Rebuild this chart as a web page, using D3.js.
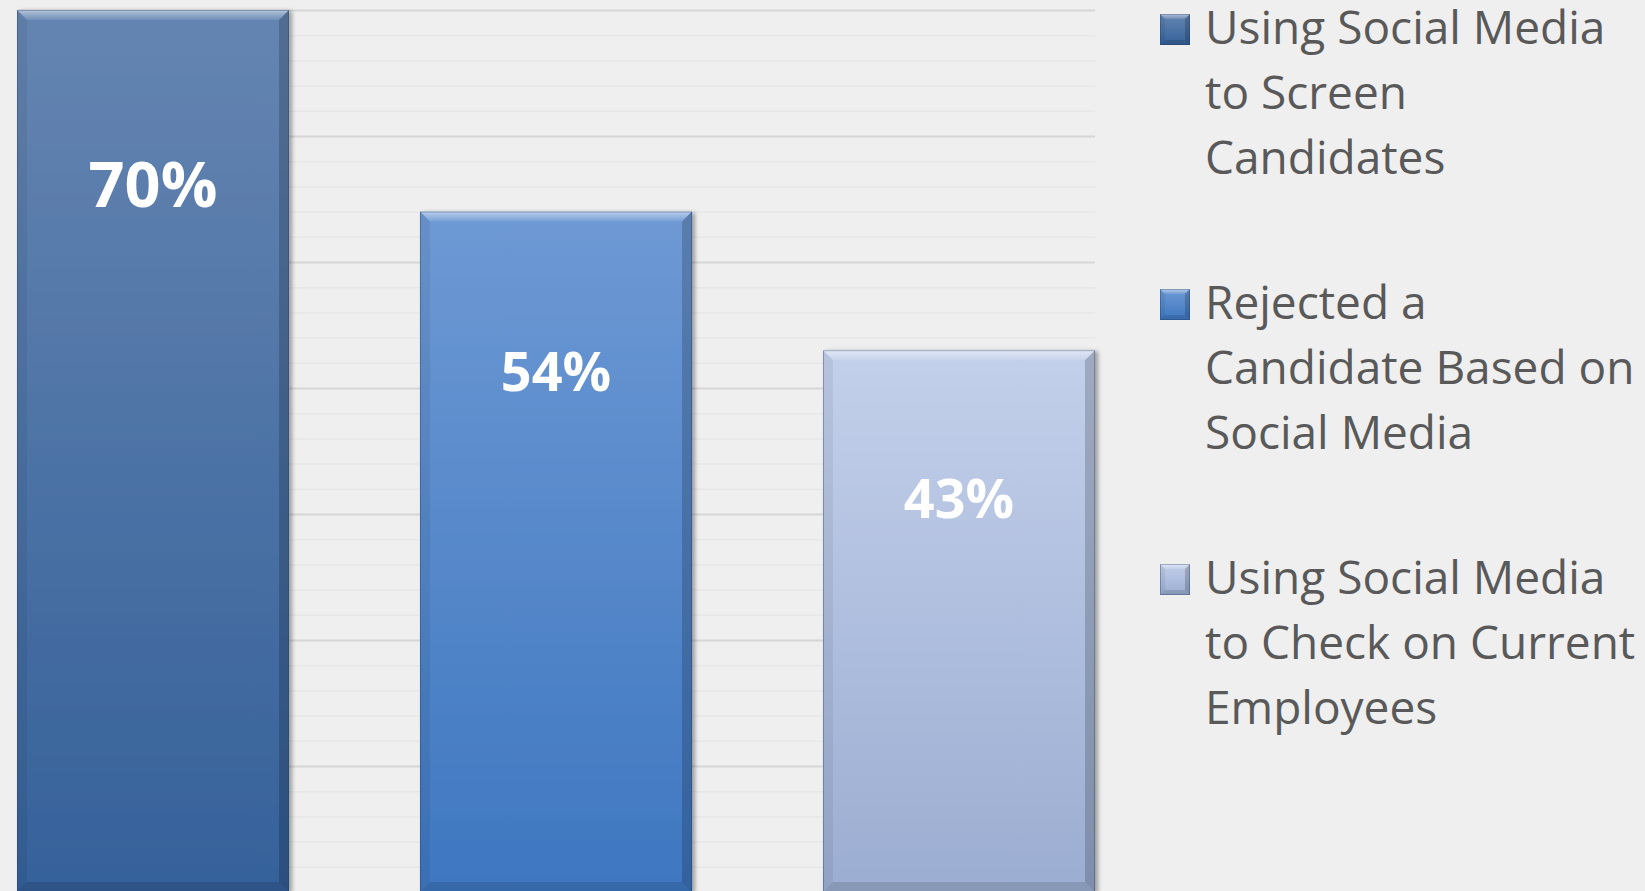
<!DOCTYPE html>
<html>
<head>
<meta charset="utf-8">
<script src="https://cdn.jsdelivr.net/npm/d3@7"></script>
<style>
  html, body { margin: 0; padding: 0; background: #efefef; overflow: hidden; }
  svg { display: block; }
</style>
</head>
<body>
<svg id="chart" width="1645" height="891"></svg>
<script>
// series (one category, three series)
var seriesNames = ["Using Social Media to Screen Candidates",
                   "Rejected a Candidate Based on Social Media",
                   "Using Social Media to Check on Current Employees"];
var legendLines = [["Using Social Media", "to Screen", "Candidates"],
                   ["Rejected a", "Candidate Based on", "Social Media"],
                   ["Using Social Media", "to Check on Current", "Employees"]];
var values = [70, 54, 43];
var valueLabels = ["70%", "54%", "43%"];

var colorTop = ["#6585b1", "#6e99d4", "#c3d0eb"];
var colorBot = ["#35619a", "#3e77c0", "#9badd1"];

var svg = d3.select("#chart");
var plot = { left: 17, right: 1095, top: 10, bottom: 892 };

var x = d3.scaleBand()
    .domain(seriesNames)
    .range([plot.left, plot.right])
    .paddingInner(0.325)
    .paddingOuter(0);

var y = d3.scaleLinear()
    .domain([0, 70])
    .range([plot.bottom, plot.top]);

var defs = svg.append("defs");

// gradients for each series
seriesNames.forEach(function(s, i) {
  var g = defs.append("linearGradient")
      .attr("id", "grad" + i)
      .attr("x1", 0).attr("y1", 0).attr("x2", 0).attr("y2", 1);
  g.append("stop").attr("offset", "0%").attr("stop-color", colorTop[i]);
  g.append("stop").attr("offset", "100%").attr("stop-color", colorBot[i]);
});

var topBevel = defs.append("linearGradient")
    .attr("id", "topBevel")
    .attr("x1", 0).attr("y1", 0).attr("x2", 0).attr("y2", 1);
topBevel.append("stop").attr("offset", "0%").attr("stop-color", "#fff").attr("stop-opacity", 0.55);
topBevel.append("stop").attr("offset", "35%").attr("stop-color", "#fff").attr("stop-opacity", 0.35);
topBevel.append("stop").attr("offset", "100%").attr("stop-color", "#fff").attr("stop-opacity", 0.08);

var shadow = defs.append("filter")
    .attr("id", "shadow")
    .attr("x", "-5%").attr("y", "-5%").attr("width", "115%").attr("height", "115%");
shadow.append("feDropShadow")
    .attr("dx", 3).attr("dy", 1)
    .attr("stdDeviation", 2)
    .attr("flood-color", "#000")
    .attr("flood-opacity", 0.35);

// gridlines: minor every 2%, major every 10%
svg.append("g")
    .attr("class", "grid minor")
    .attr("transform", "translate(" + plot.left + ",0)")
    .call(d3.axisLeft(y)
      .tickValues(d3.range(0, 71, 2).filter(function(d) { return d % 10 !== 0; }))
      .tickSize(-(plot.right - plot.left))
      .tickFormat(""))
    .call(function(g) { g.select(".domain").remove(); })
    .selectAll("line")
      .attr("stroke", "#e7e7e7")
      .attr("stroke-width", 1.5);

svg.append("g")
    .attr("class", "grid major")
    .attr("transform", "translate(" + plot.left + ",0)")
    .call(d3.axisLeft(y)
      .tickValues(d3.range(0, 71, 10))
      .tickSize(-(plot.right - plot.left))
      .tickFormat(""))
    .call(function(g) { g.select(".domain").remove(); })
    .selectAll("line")
      .attr("stroke", "#d6d6d6")
      .attr("stroke-width", 2);

// draws a bevelled block like the Office 3-D bar style
function bevelBlock(g, x0, y0, w, h, b, i) {
  var x1 = x0 + w, y1 = y0 + h;
  g.append("rect")
    .attr("x", x0).attr("y", y0)
    .attr("width", w).attr("height", h)
    .attr("fill", "url(#grad" + i + ")")
    .attr("filter", "url(#shadow)");
  // top highlight
  g.append("polygon")
    .attr("points", [[x0, y0], [x1, y0], [x1 - b, y0 + b], [x0 + b, y0 + b]].join(" "))
    .attr("fill", "url(#topBevel)");
  // left side
  g.append("polygon")
    .attr("points", [[x0, y0], [x0 + b, y0 + b], [x0 + b, y1 - b], [x0, y1]].join(" "))
    .attr("fill", "#000").attr("fill-opacity", 0.06);
  // right side
  g.append("polygon")
    .attr("points", [[x1, y0], [x1 - b, y0 + b], [x1 - b, y1 - b], [x1, y1]].join(" "))
    .attr("fill", "#000").attr("fill-opacity", 0.18);
  // bottom
  g.append("polygon")
    .attr("points", [[x0, y1], [x0 + b, y1 - b], [x1 - b, y1 - b], [x1, y1]].join(" "))
    .attr("fill", "#000").attr("fill-opacity", 0.12);
  g.append("rect")
    .attr("x", x0 + 0.5).attr("y", y0 + 0.5)
    .attr("width", w - 1).attr("height", h - 1)
    .attr("fill", "none")
    .attr("stroke", "#1f3a60").attr("stroke-opacity", 0.35);
}

// bars
var bars = svg.selectAll(".bar")
    .data(values)
  .enter().append("g")
    .attr("class", "bar");

bars.each(function(d, i) {
  bevelBlock(d3.select(this), x(seriesNames[i]), y(d), x.bandwidth(), y(0) - y(d), 10, i);
});

// value labels
bars.append("text")
    .attr("x", function(d, i) { return x(seriesNames[i]) + x.bandwidth() / 2; })
    .attr("y", function(d) { return y(d) + 0.086 * (y(0) - y(d)) + 121; })
    .attr("text-anchor", "middle")
    .style("font-family", "'Open Sans', sans-serif")
    .style("font-weight", "bold")
    .style("font-size", function(d, i) { return (i === 0 ? 63 : 54) + "px"; })
    .attr("fill", "#fff")
    .text(function(d, i) { return valueLabels[i]; });

// legend
var legend = svg.selectAll(".legend")
    .data(seriesNames)
  .enter().append("g")
    .attr("class", "legend")
    .attr("transform", function(d, i) { return "translate(1160," + (44 + i * 275) + ")"; });

legend.each(function(d, i) {
  bevelBlock(d3.select(this), 0, -30, 30, 31, 5, i);
});
legend.selectAll("rect").attr("filter", null);

legend.append("text")
    .attr("x", 45)
    .style("font-family", "'Open Sans', sans-serif")
    .style("font-size", "46px")
    .attr("fill", "#595959")
    .selectAll("tspan")
    .data(function(d, i) { return legendLines[i]; })
  .enter().append("tspan")
    .attr("x", 45)
    .attr("dy", function(d, j) { return j === 0 ? 0 : 65; })
    .text(function(d) { return d; });
</script>
</body>
</html>
